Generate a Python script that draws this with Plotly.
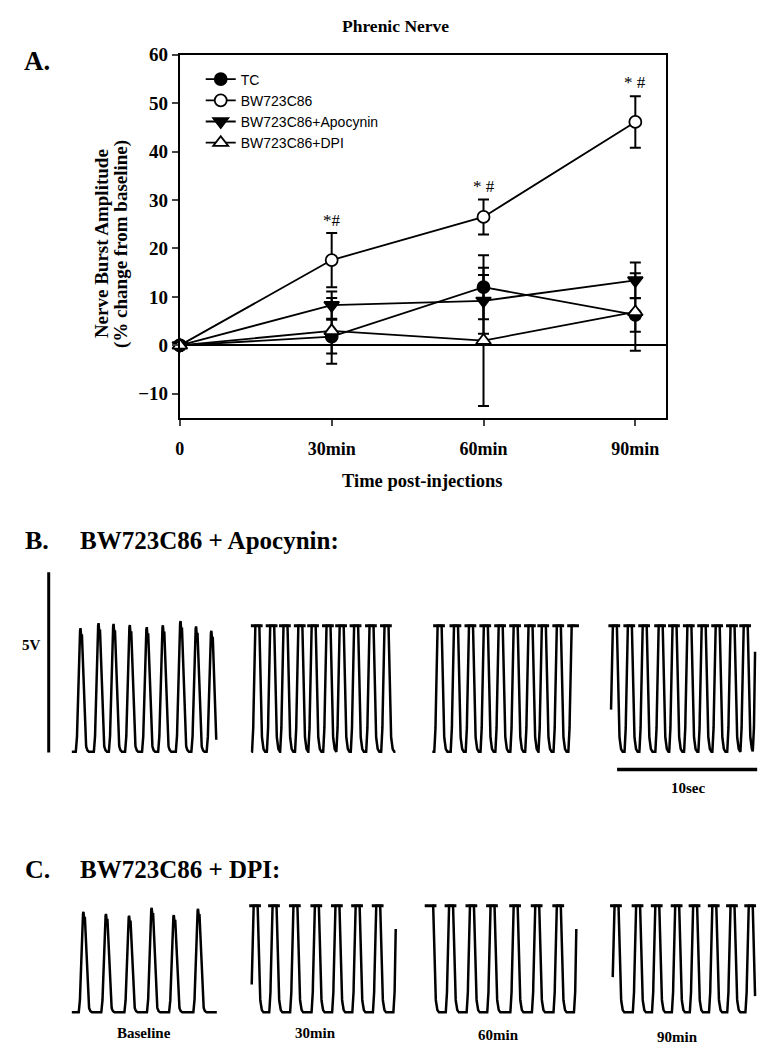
import numpy as np
import plotly.graph_objects as go

FIG_W, FIG_H = 773, 1050
SERIF = "Liberation Serif, Times New Roman, serif"
SANS = "Liberation Sans, Arial, sans-serif"

# ---------------- Panel A data ----------------
time_min = [0, 30, 60, 90]
x_tick_labels = ["0", "30min", "60min", "90min"]
y_ticks = [-10, 0, 10, 20, 30, 40, 50, 60]

tc_mean = [0, 1.8, 12.0, 6.3]
tc_sem = [0, 3.5, 6.6, 3.5]
bw_mean = [0, 17.6, 26.5, 46.1]
bw_sem = [0, 5.6, 3.6, 5.3]
apo_mean = [0, 8.3, 9.2, 13.4]
apo_sem = [0, 2.8, 6.8, 3.7]
dpi_mean = [0, 3.0, 1.0, 6.9]
dpi_sem = [0, 6.8, 13.5, 8.0]

sig_times = [30, 60, 90]
sig_levels = [25.7, 32.8, 54.3]
sig_labels = ["*#", "* #", "* #"]

# ---------------- Panel B / C data (burst peak times in s, amplitudes in V) ----------------
segment_labels = ["Baseline", "30min", "60min", "90min"]

b_peaks = [
    [0.62, 1.91, 2.98, 4.14, 5.35, 6.50, 7.76, 8.87, 9.96],
    [0.38, 1.44, 2.39, 3.45, 4.40, 5.46, 6.40, 7.43, 8.53, 9.60],
    [0.48, 1.65, 2.72, 3.78, 4.84, 5.91, 6.97, 7.92, 8.99, 10.05],
    [0.23, 1.30, 2.36, 3.50, 4.49, 5.55, 6.57, 7.57, 8.63, 9.57, 10.45],
]
b_amps = [
    [3.43, 3.57, 3.55, 3.52, 3.46, 3.51, 3.63, 3.48, 3.36],
    [5.4, 5.4, 5.4, 5.4, 5.4, 5.4, 5.4, 5.4, 5.4, 5.4],
    [5.4, 5.4, 5.4, 5.4, 5.4, 5.4, 5.4, 5.4, 5.4, 5.4],
    [5.4, 5.4, 5.4, 5.4, 5.4, 5.4, 5.4, 5.4, 5.4, 5.4, 5.4],
]
c_peaks = [
    [0.83, 2.44, 4.09, 5.70, 7.28, 9.01],
    [0.24, 1.59, 3.08, 4.61, 6.08, 7.52, 8.99, 10.45],
    [-0.12, 1.30, 2.79, 4.26, 5.91, 7.45, 8.99, 10.45],
    [0.23, 1.77, 3.14, 4.56, 5.84, 7.21, 8.51, 9.81],
]
c_amps = [
    [2.79, 2.73, 2.68, 2.90, 2.70, 2.87],
    [4.5, 4.5, 4.5, 4.5, 4.5, 4.5, 4.5, 4.5],
    [4.5, 4.5, 4.5, 4.5, 4.5, 4.5, 4.5, 4.5],
    [4.5, 4.5, 4.5, 4.5, 4.5, 4.5, 4.5, 4.5],
]
b_saturation_v = 3.5
c_saturation_v = 2.96
scale_bar_v = 5
time_bar_s = 10

# ---------------- layout constants ----------------
B_SEG_START = [4.77, 17.59, 30.50, 43.26]
B_SEG_LEN = [10.31, 10.28, 10.21, 10.28]
C_SEG_START = [4.77, 17.61, 30.50, 43.38]
C_SEG_LEN = [10.35, 10.28, 10.28, 10.16]
SATURATED = [False, True, True, True]
TRACE_X_RANGE = [0, 54.82]

# burst waveform template (relative to peak time, fraction of amplitude)
BURST_DT = [-0.34, -0.26, -0.19, -0.12, -0.05, 0.0, 0.05, 0.10, 0.17, 0.25, 0.33, 0.42, 0.55]
BURST_FR = [0.0, 0.08, 0.40, 0.80, 0.97, 1.0, 0.93, 0.95, 0.72, 0.38, 0.12, 0.03, 0.0]


def px(x):
    return x / FIG_W


def py(y):
    return 1 - y / FIG_H


def waveform(peaks, amps, start, length, sat, clip):
    t = np.arange(0, length + 1e-9, 0.01)
    v = np.zeros_like(t)
    for p, a in zip(peaks, amps):
        v = np.maximum(v, a * np.interp(t - p, BURST_DT, BURST_FR, left=0, right=0))
    if sat:
        v = np.minimum(v, clip)
    return list(start + t), list(v)


def dashes(peaks, start, length, clip):
    xs, ys = [], []
    for p in peaks:
        if -0.2 <= p <= length:
            xs += [start + p - 0.42, start + p + 0.42, None]
            ys += [clip, clip, None]
    return xs, ys


fig = go.Figure()

# ---------------- Panel A ----------------
series = [
    ("TC", tc_mean, tc_sem, "circle", "black", 12),
    ("BW723C86", bw_mean, bw_sem, "circle", "white", 12),
    ("BW723C86+Apocynin", apo_mean, apo_sem, "triangle-down", "black", 13),
    ("BW723C86+DPI", dpi_mean, dpi_sem, "triangle-up", "white", 13),
]
for name, m, s, sym, fill, size in series:
    fig.add_trace(go.Scatter(
        x=time_min, y=m, name=name, mode="lines+markers",
        line=dict(color="black", width=1.8),
        marker=dict(symbol=sym, size=size, color=fill, line=dict(color="black", width=1.8)),
        error_y=dict(type="data", array=s, visible=True, color="black", thickness=2, width=5.5),
        cliponaxis=False, xaxis="x", yaxis="y",
    ))

for t, lvl, lab in zip(sig_times, sig_levels, sig_labels):
    fig.add_annotation(x=t, y=lvl, xref="x", yref="y", text=lab, showarrow=False,
                       font=dict(family=SERIF, size=17, color="black"))


# ---------------- Panels B and C ----------------
def add_panel(peaks_list, amps_list, starts, lens, clip, xa, ya):
    xs, ys = [], []
    dx, dy = [], []
    for i in range(4):
        x, y = waveform(peaks_list[i], amps_list[i], starts[i], lens[i], SATURATED[i], clip)
        xs += x + [None]
        ys += y + [None]
        if SATURATED[i]:
            a, b = dashes(peaks_list[i], starts[i], lens[i], clip)
            dx += a
            dy += b
    fig.add_trace(go.Scatter(x=xs, y=ys, mode="lines", line=dict(color="black", width=2.5),
                             showlegend=False, xaxis=xa, yaxis=ya, hoverinfo="skip"))
    fig.add_trace(go.Scatter(x=dx, y=dy, mode="lines", line=dict(color="black", width=3),
                             showlegend=False, xaxis=xa, yaxis=ya, hoverinfo="skip"))


add_panel(b_peaks, b_amps, B_SEG_START, B_SEG_LEN, b_saturation_v, "x2", "y2")
add_panel(c_peaks, c_amps, C_SEG_START, C_SEG_LEN, c_saturation_v, "x3", "y3")

# scale bars
fig.add_trace(go.Scatter(x=[3.12, 3.12], y=[-0.02, -0.02 + scale_bar_v], mode="lines",
                         line=dict(color="black", width=3), showlegend=False,
                         xaxis="x2", yaxis="y2", hoverinfo="skip"))
fig.add_trace(go.Scatter(x=[43.69, 43.69 + time_bar_s], y=[-0.49, -0.49], mode="lines",
                         line=dict(color="black", width=3.5), showlegend=False,
                         xaxis="x2", yaxis="y2", hoverinfo="skip"))


# ---------------- annotations ----------------
def ann(text, x, y, size, xanchor="center", bold=True, angle=0, family=SERIF):
    fig.add_annotation(x=px(x), y=py(y), xref="paper", yref="paper", text=text,
                       showarrow=False, xanchor=xanchor, yanchor="middle", textangle=angle,
                       font=dict(family=family, size=size, color="black",
                                 weight="bold" if bold else "normal"))


ann("Phrenic Nerve", 393, 16, 17.5)
ann("A.", 17, 51, 27, xanchor="left")
ann("Nerve Burst Amplitude", 97, 236, 19, angle=-90)
ann("(% change from baseline)", 117, 236, 19, angle=-90)
ann("Time post-injections", 420, 476, 18.5)
ann("B.", 18, 536, 26, xanchor="left")
ann("BW723C86 + Apocynin:", 73, 536, 25, xanchor="left")
ann("5V", 27, 641, 15)
ann("10sec", 687, 785, 15)
ann("C.", 18, 868, 26, xanchor="left")
ann("BW723C86 + DPI:", 73, 868, 25, xanchor="left")
for lab, cx, cy in zip(segment_labels, [140, 313, 497, 677], [1033, 1033, 1035, 1037]):
    ann(lab, cx, cy, 15)

hidden = dict(visible=False, showgrid=False, zeroline=False, fixedrange=True)

fig.update_layout(
    width=FIG_W, height=FIG_H,
    margin=dict(l=0, r=0, t=0, b=0),
    paper_bgcolor="white", plot_bgcolor="white",
    showlegend=True,
    legend=dict(x=px(197), y=py(54), xanchor="left", yanchor="top",
                bgcolor="rgba(0,0,0,0)", font=dict(family=SANS, size=14, color="black"),
                tracegroupgap=0, itemwidth=30),
    xaxis=dict(domain=[px(176), px(665)], range=[0, 96], tickvals=time_min,
               ticktext=x_tick_labels, ticks="outside", ticklen=6, tickwidth=2,
               showline=True, linewidth=2, linecolor="black", mirror=True,
               showgrid=False, zeroline=False, ticklabelstandoff=7,
               tickfont=dict(family=SERIF, size=18, color="black", weight="bold")),
    yaxis=dict(domain=[py(412), py(45)], range=[-15, 60], tickvals=y_ticks,
               ticks="outside", ticklen=6, tickwidth=2,
               showline=True, linewidth=2, linecolor="black", mirror=True,
               showgrid=False, zeroline=True, zerolinecolor="black", zerolinewidth=1.5,
               tickfont=dict(family=SERIF, size=19, color="black", weight="bold")),
    xaxis2=dict(domain=[0, 1], range=TRACE_X_RANGE, anchor="y2", **hidden),
    yaxis2=dict(domain=[py(775), py(555)], range=[-0.714, 5.33], anchor="x2", **hidden),
    xaxis3=dict(domain=[0, 1], range=TRACE_X_RANGE, anchor="y3", **hidden),
    yaxis3=dict(domain=[py(1025), py(880)], range=[-0.357, 3.626], anchor="x3", **hidden),
)

fig.write_html("out.html", config={"displayModeBar": False},
               post_script="document.body.style.margin='0';document.body.style.overflow='hidden';")
